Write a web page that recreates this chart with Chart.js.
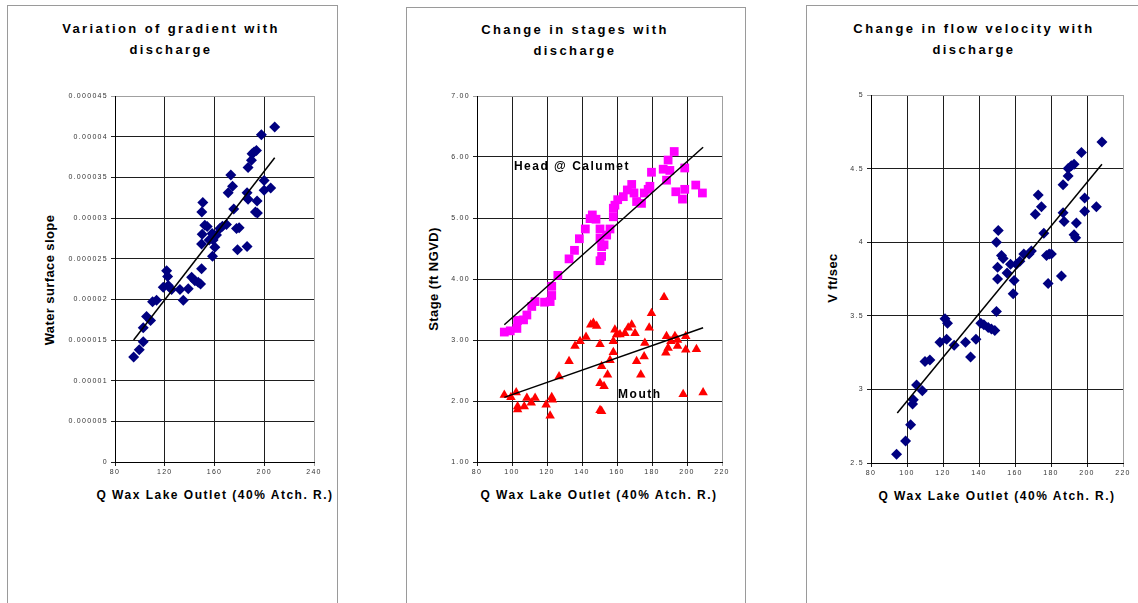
<!DOCTYPE html>
<html>
<head>
<meta charset="utf-8">
<script src="https://cdn.jsdelivr.net/npm/chart.js@4"></script>
<style>
  body { margin: 0; background: #fff; width: 1138px; height: 603px; overflow: hidden; position: relative;
         font-family: "Liberation Sans", Arial, sans-serif; }
  .box { position: absolute; border: 1px solid #9a9a9a; }
  .title { position: absolute; width: 340px; text-align: center; font-weight: bold; font-size: 13px;
           line-height: 21px; letter-spacing: 2.4px; color: #000; }
  .xt { position: absolute; width: 300px; text-align: center; font-weight: bold; font-size: 12px;
        line-height: 16px; letter-spacing: 1.5px; color: #000; white-space: nowrap; }
  .yt { position: absolute; font-weight: bold; font-size: 13px; white-space: nowrap; color: #000;
        letter-spacing: 0.4px; transform: translate(-50%, -50%) rotate(-90deg); }
  canvas { position: absolute; }
</style>
</head>
<body>
<div class="box" style="left:7px; top:5px; width:329px; height:620px;"></div>
<div class="box" style="left:406px; top:7px; width:338px; height:620px;"></div>
<div class="box" style="left:806px; top:5px; width:360px; height:620px;"></div>

<div class="title" style="left:1px; top:18px;">Variation of gradient with<br>discharge</div>
<div class="title" style="left:405px; top:19px;">Change in stages with<br>discharge</div>
<div class="title" style="left:804px; top:18px;">Change in flow velocity with<br>discharge</div>

<div class="xt" style="left:65px; top:487px;">Q Wax Lake Outlet (40% Atch. R.)</div>
<div class="xt" style="left:449px; top:487px;">Q Wax Lake Outlet (40% Atch. R.)</div>
<div class="xt" style="left:847px; top:488px;">Q Wax Lake Outlet (40% Atch. R.)</div>

<div class="yt" style="left:49px; top:280px;">Water surface slope</div>
<div class="yt" style="left:433px; top:279px;">Stage (ft NGVD)</div>
<div class="yt" style="left:832px; top:278px;">V ft/sec</div>

<canvas id="c1"></canvas>
<canvas id="c2"></canvas>
<canvas id="c3"></canvas>

<script>
// --- gradient panel ---
const gradQ = [95.0, 99.5, 102.7, 102.7, 105.4, 108.6, 110.2, 113.4, 118.8, 121.5, 122.3, 122.8, 125.5,
  132.2, 134.9, 138.9, 141.6, 144.2, 146.9, 148.8, 149.6, 149.8, 150.6, 150.1, 149.6, 152.2, 154.1,
  155.7, 158.1, 158.9, 158.4, 160.3, 161.6, 164.3, 166.4, 169.6, 171.0, 173.1, 174.5, 175.5, 177.7,
  179.8, 178.5, 186.2, 186.2, 187.0, 187.0, 189.7, 190.2, 191.8, 193.7, 194.2, 192.9, 194.5, 197.7,
  199.9, 199.9, 205.2, 208.4];
const gradSlope = [12.9e-6, 13.8e-6, 14.8e-6, 16.5e-6, 17.9e-6, 17.4e-6, 19.7e-6, 19.9e-6, 21.5e-6,
  23.5e-6, 22.8e-6, 21.7e-6, 21.2e-6, 21.2e-6, 19.9e-6, 21.3e-6, 22.7e-6, 22.3e-6, 22.1e-6, 21.9e-6,
  23.75e-6, 30.75e-6, 31.9e-6, 28.0e-6, 26.8e-6, 29.1e-6, 28.95e-6, 27.3e-6, 28.1e-6, 27.3e-6, 25.3e-6,
  26.4e-6, 27.9e-6, 28.7e-6, 29.0e-6, 29.2e-6, 33.1e-6, 35.3e-6, 33.9e-6, 31.1e-6, 28.7e-6, 28.8e-6,
  26.1e-6, 26.5e-6, 33.1e-6, 36.2e-6, 32.3e-6, 37.1e-6, 37.9e-6, 38.1e-6, 38.3e-6, 32.1e-6, 30.75e-6,
  30.6e-6, 40.25e-6, 34.6e-6, 33.4e-6, 33.7e-6, 41.2e-6];
const gradTrendQ = [95.0, 208.4];
const gradTrendSlope = [15.0e-6, 37.4e-6];
const gradXTicks = [80, 120, 160, 200, 240];
const gradYTicks = [0, 0.000005, 0.00001, 0.000015, 0.00002, 0.000025, 0.00003, 0.000035, 0.00004, 0.000045];
const gradYLabels = ['0', '0.000005', '0.00001', '0.000015', '0.00002', '0.000025', '0.00003', '0.000035', '0.00004', '0.000045'];

// --- stage panel ---
const headQ = [95.6, 99.0, 102.8, 103.2, 106.6, 108.5, 111.3, 113.2, 118.6, 121.8, 122.7, 122.7, 126.2,
  132.6, 135.7, 138.5, 141.9, 144.6, 145.9, 148.0, 150.3, 150.3, 151.2, 151.2, 152.6, 150.3, 154.1,
  156.0, 157.9, 157.9, 158.8, 160.4, 163.6, 165.9, 168.4, 169.7, 171.2, 174.0, 175.6, 177.8, 178.8,
  179.7, 186.4, 188.3, 189.2, 190.2, 192.7, 193.6, 197.4, 198.7, 198.7, 205.0, 208.8];
const headStage = [3.13, 3.15, 3.19, 3.32, 3.33, 3.41, 3.55, 3.63, 3.62, 3.63, 3.73, 3.88, 4.06,
  4.33, 4.47, 4.66, 4.82, 4.99, 5.05, 4.98, 4.82, 4.30, 4.37, 4.53, 4.56, 4.67, 4.72,
  4.82, 5.02, 5.16, 5.21, 5.30, 5.35, 5.46, 5.55, 5.41, 5.27, 5.24, 5.41, 5.47, 5.52,
  5.75, 5.80, 5.62, 5.95, 5.78, 6.09, 5.43, 5.31, 5.47, 5.82, 5.54, 5.41];
const mouthQ = [95.6, 99.4, 102.4, 103.2, 103.2, 107.0, 108.5, 111.0, 113.2, 119.5, 121.8, 122.7, 123.1,
  126.9, 132.6, 136.0, 138.9, 142.3, 145.0, 146.5, 148.4, 150.3, 151.2, 150.3, 152.6, 150.3, 151.2,
  154.6, 156.0, 157.9, 157.9, 158.8, 159.8, 161.7, 164.5, 166.4, 168.4, 170.3, 171.2, 173.6, 175.5,
  175.9, 178.4, 179.7, 186.9, 187.9, 188.3, 189.2, 190.8, 193.1, 194.6, 194.6, 197.8, 199.3, 199.3,
  205.4, 209.2];
const mouthStage = [2.10, 2.06, 2.14, 1.91, 1.86, 1.91, 2.05, 1.97, 2.05, 1.94, 1.76, 2.06, 2.02,
  2.40, 2.65, 2.90, 2.98, 3.05, 3.25, 3.28, 3.23, 2.93, 2.57, 2.29, 2.24, 1.85, 1.83,
  2.43, 2.67, 2.80, 2.98, 3.17, 3.09, 3.09, 3.11, 3.20, 3.25, 3.11, 2.65, 2.43, 2.73,
  2.95, 3.20, 3.44, 3.70, 2.79, 3.06, 2.87, 2.98, 3.06, 2.90, 3.00, 2.11, 3.06, 2.84,
  2.85, 2.14];
const headTrendQ = [95.6, 209.2];
const headTrendStage = [3.25, 6.16];
const mouthTrendQ = [95.6, 209.2];
const mouthTrendStage = [2.06, 3.20];
const stageNotes = ['Head @ Calumet', 'Mouth'];
const stageNoteQ = [101.1, 160.6];
const stageNoteStage = [5.84, 2.10];
const stageXTicks = [80, 100, 120, 140, 160, 180, 200, 220];
const stageYTicks = [1, 2, 3, 4, 5, 6, 7];
const stageYLabels = ['1.00', '2.00', '3.00', '4.00', '5.00', '6.00', '7.00'];

// --- velocity panel ---
const velQ = [94.2, 99.2, 102.0, 103.1, 103.5, 105.3, 108.5, 110.0, 112.7, 118.3, 121.1, 122.5, 122.0,
  126.2, 132.5, 135.3, 138.3, 141.0, 142.7, 145.1, 146.9, 148.8, 149.7, 149.7, 150.7, 150.3, 150.3,
  152.5, 153.4, 155.6, 157.5, 159.0, 159.5, 160.8, 162.7, 164.9, 167.8, 169.1, 171.3, 172.9, 174.7,
  176.0, 177.5, 179.0, 180.2, 178.4, 185.8, 186.7, 186.7, 187.3, 189.5, 189.5, 191.3, 192.8, 192.8,
  193.7, 194.1, 196.9, 198.7, 198.7, 205.2, 208.3];
const velV = [2.56, 2.65, 2.76, 2.90, 2.93, 3.03, 2.99, 3.19, 3.20, 3.32, 3.48, 3.45, 3.34,
  3.30, 3.32, 3.22, 3.34, 3.45, 3.44, 3.42, 3.41, 3.40, 3.53, 4.00, 4.08, 3.83, 3.75,
  3.91, 3.89, 3.79, 3.85, 3.65, 3.74, 3.85, 3.87, 3.92, 3.92, 3.94, 4.19, 4.32, 4.24,
  4.06, 3.91, 3.92, 3.92, 3.72, 3.77, 4.39, 4.20, 4.14, 4.50, 4.45, 4.52, 4.53, 4.05,
  4.03, 4.13, 4.61, 4.30, 4.21, 4.24, 4.68];
const velTrendQ = [94.6, 208.3];
const velTrendV = [2.84, 4.53];
const velXTicks = [80, 100, 120, 140, 160, 180, 200, 220];
const velYTicks = [2.5, 3, 3.5, 4, 4.5, 5];
const velYLabels = ['2.5', '3', '3.5', '4', '4.5', '5'];

const pts = (xs, ys) => xs.map((x, i) => ({ x, y: ys[i] }));
const FONT = '"Liberation Sans", Arial, sans-serif';

// letter-spaced tick text like the old spreadsheet export
const spacing = {
  id: 'spacing',
  beforeDraw(chart) { chart.ctx.letterSpacing = '1.3px'; },
};

const notes = {
  id: 'notes',
  afterDatasetsDraw(chart, args, opts) {
    if (!opts.text) return;
    const { ctx, scales } = chart;
    ctx.save();
    ctx.font = 'bold 12px ' + FONT;
    ctx.letterSpacing = '1.5px';
    ctx.fillStyle = '#000';
    ctx.textAlign = 'left';
    ctx.textBaseline = 'middle';
    opts.text.forEach((t, i) => {
      ctx.fillText(t, scales.x.getPixelForValue(opts.xs[i]), scales.y.getPixelForValue(opts.ys[i]));
    });
    ctx.restore();
  },
};

function makePanel(id, plot, xTicks, yTicks, yLabels, datasets, noteOpts) {
  const [L, T, R, B] = plot;
  const cv = document.getElementById(id);
  const yW = 60, xH = 22, padT = 16, padR = 16;
  cv.width = (R - L) + yW + padR;
  cv.height = (B - T) + padT + xH;
  cv.style.left = (L - yW) + 'px';
  cv.style.top = (T - padT) + 'px';

  const lastX = xTicks[xTicks.length - 1];
  const lastY = yTicks[yTicks.length - 1];

  new Chart(cv.getContext('2d'), {
    type: 'scatter',
    data: { datasets },
    options: {
      responsive: false,
      animation: false,
      layout: { padding: { top: padT, right: padR, left: 0, bottom: 0 } },
      plugins: { legend: { display: false }, tooltip: { enabled: false }, notes: noteOpts || {} },
      scales: {
        x: {
          type: 'linear',
          min: xTicks[0], max: lastX,
          afterBuildTicks: s => { s.ticks = xTicks.map(v => ({ value: v })); },
          afterFit: s => { s.height = xH; },
          ticks: { font: { size: 7, family: FONT }, color: '#333', padding: 2, maxRotation: 0,
                   callback: v => String(v) },
          grid: { color: c => (c.tick && c.tick.value === lastX ? '#a0a0a0' : '#1e1e1e'),
                  tickLength: 4, lineWidth: 1 },
          border: { color: '#000', width: 1 },
        },
        y: {
          type: 'linear',
          min: yTicks[0], max: lastY,
          afterBuildTicks: s => { s.ticks = yTicks.map(v => ({ value: v })); },
          afterFit: s => { s.width = yW; },
          ticks: { font: { size: 7, family: FONT }, color: '#333', padding: 3,
                   callback: (v, i) => yLabels[i] },
          grid: { color: c => (c.tick && c.tick.value === lastY ? '#a0a0a0' : '#1e1e1e'),
                  tickLength: 4, lineWidth: 1 },
          border: { color: '#000', width: 1 },
        },
      },
    },
    plugins: [spacing, notes],
  });
}

const trend = (xs, ys) => ({
  data: pts(xs, ys), showLine: true, pointRadius: 0, borderColor: '#000', borderWidth: 1.5,
});
const navy = '#000080';

makePanel('c1', [115, 96, 314, 462], gradXTicks, gradYTicks, gradYLabels, [
  trend(gradTrendQ, gradTrendSlope),
  { data: pts(gradQ, gradSlope), pointStyle: 'rectRot', pointRadius: 5.5,
    backgroundColor: navy, borderColor: navy, borderWidth: 0 },
]);

makePanel('c2', [477, 96, 722, 462], stageXTicks, stageYTicks, stageYLabels, [
  trend(headTrendQ, headTrendStage),
  trend(mouthTrendQ, mouthTrendStage),
  { data: pts(headQ, headStage), pointStyle: 'rect', pointRadius: 6.2,
    backgroundColor: '#ff00ff', borderColor: '#ff00ff', borderWidth: 0 },
  { data: pts(mouthQ, mouthStage), pointStyle: 'triangle', pointRadius: 5.5,
    backgroundColor: '#ff0000', borderColor: '#ff0000', borderWidth: 0 },
], { text: stageNotes, xs: stageNoteQ, ys: stageNoteStage });

makePanel('c3', [871, 95, 1123, 463], velXTicks, velYTicks, velYLabels, [
  trend(velTrendQ, velTrendV),
  { data: pts(velQ, velV), pointStyle: 'rectRot', pointRadius: 5.5,
    backgroundColor: navy, borderColor: navy, borderWidth: 0 },
]);
</script>
</body>
</html>
